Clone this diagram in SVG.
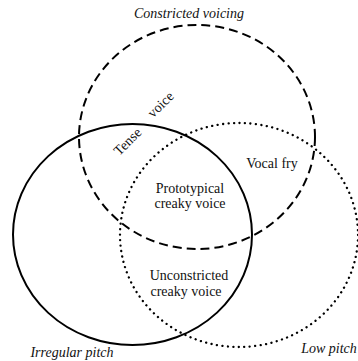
<svg xmlns="http://www.w3.org/2000/svg" width="358" height="361" viewBox="0 0 358 361">
<style>
.c{fill:none;stroke:#000;stroke-width:2}
.dash{stroke-dasharray:9 5}
.dot{stroke-dasharray:0.1 5.4;stroke-linecap:round;stroke-width:2.3}
.t{font-size:14px;fill:#111}
.i{font-style:italic}
</style>
<rect width="358" height="361" fill="#fff"/>
<g id="connectors"></g>
<g id="constricted"><ellipse class="c dash" cx="197" cy="137" rx="118" ry="112"/></g>
<g id="irregular"><ellipse class="c" cx="132.5" cy="234.5" rx="119.5" ry="110.5"/></g>
<g id="low"><ellipse class="c dot" cx="239" cy="235" rx="119" ry="112"/></g>
<g id="labels" font-family="Liberation Serif">
<text class="t i" x="189" y="18" text-anchor="middle">Constricted voicing</text>
<text class="t" x="272" y="168" text-anchor="middle">Vocal fry</text>
<text class="t" x="190" y="193" text-anchor="middle">Prototypical</text>
<text class="t" x="190" y="208" text-anchor="middle">creaky voice</text>
<text class="t" x="189" y="280" text-anchor="middle">Unconstricted</text>
<text class="t" x="186" y="296" text-anchor="middle">creaky voice</text>
<text class="t i" x="72" y="357" text-anchor="middle">Irregular pitch</text>
<text class="t i" x="329" y="353" text-anchor="middle">Low pitch</text>
<text class="t" transform="translate(128,142) rotate(-45)" text-anchor="middle" dy="4">Tense</text>
<text class="t" transform="translate(161,105) rotate(-45)" text-anchor="middle" dy="4">voice</text>
</g>
</svg>
